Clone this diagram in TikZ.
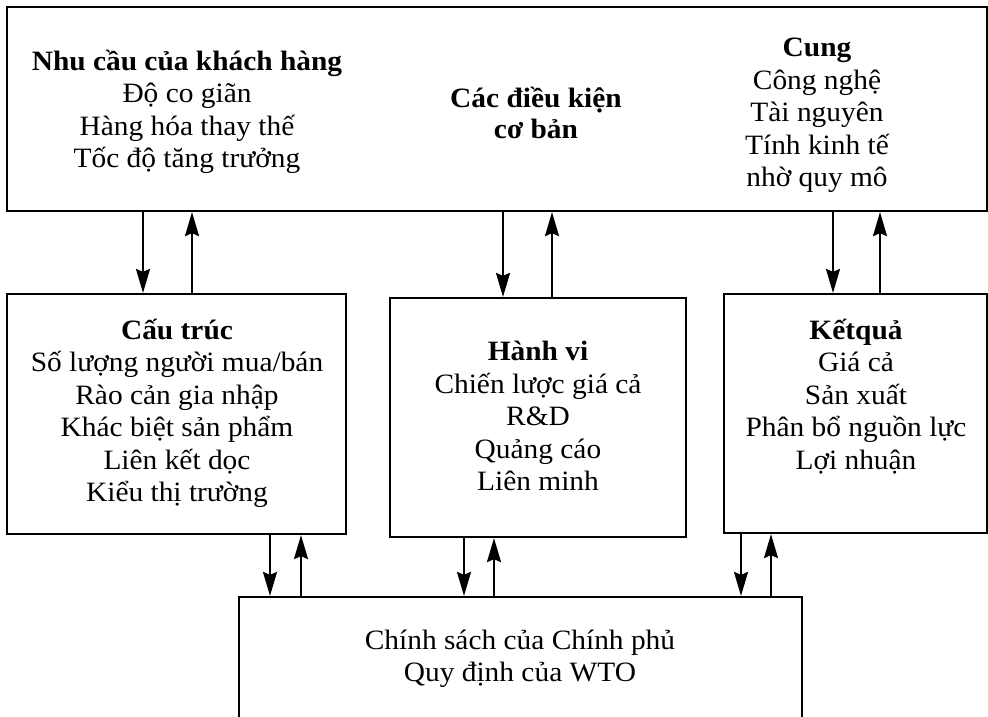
\documentclass[tikz,border=0pt]{standalone}
\usepackage{fontspec}
\setmainfont[FakeStretch=1.05]{Liberation Serif}
\usetikzlibrary{arrows.meta}
\begin{document}
\begin{tikzpicture}[x=1pt,y=-1pt,
  box/.style={draw, line width=2.2pt, inner sep=0pt},
  txt/.style={align=center, font=\fontsize{28}{32.5}\selectfont, inner sep=0pt},
  arr/.style={line width=2.2pt, -{Stealth[length=24pt,width=14pt,inset=3pt]}}]
\useasboundingbox (0,0) rectangle (988,716);
\clip (0,0) rectangle (988,716);
\fill[white] (0,0) rectangle (988,716);
% boxes
\node[box, minimum width=980pt, minimum height=204pt] (top) at (497,109) {};
\node[box, minimum width=339pt, minimum height=240pt] (left) at (176.5,414) {};
\node[box, minimum width=296pt, minimum height=239pt] (mid) at (538,417.5) {};
\node[box, minimum width=263pt, minimum height=239pt] (right) at (855.5,413.5) {};
\node[box, minimum width=563pt, minimum height=163pt] (bot) at (520.5,678.5) {};
% texts
\node[txt] (tdemand) at (187,112) {\textbf{Nhu cầu của khách hàng}\\Độ co giãn\\Hàng hóa thay thế\\Tốc độ tăng trưởng};
\node[txt, font=\fontsize{28}{31}\selectfont] (tbasic) at (536,113) {\textbf{Các điều kiện}\\\textbf{cơ bản}};
\node[txt] (tsupply) at (817,115.5) {\textbf{Cung}\\Công nghệ\\Tài nguyên\\Tính kinh tế\\nhờ quy mô};
\node[txt] (tstruct) at (177,413.5) {\textbf{Cấu trúc}\\Số lượng người mua/bán\\Rào cản gia nhập\\Khác biệt sản phẩm\\Liên kết dọc\\Kiểu thị trường};
\node[txt] (tconduct) at (538,416) {\textbf{Hành vi}\\Chiến lược giá cả\\R\&D\\Quảng cáo\\Liên minh};
\node[txt] (tperf) at (856,396.5) {\textbf{Kếtquả}\\Giá cả\\Sản xuất\\Phân bổ nguồn lực\\Lợi nhuận};
\node[txt] (tgov) at (520,659) {Chính sách của Chính phủ\\Quy định của WTO};
% arrow x positions
\coordinate (a1) at (143,0);  \coordinate (a2) at (192,0);
\coordinate (b1) at (503,0);  \coordinate (b2) at (552,0);
\coordinate (c1) at (833,0);  \coordinate (c2) at (880,0);
\coordinate (d1) at (270,0);  \coordinate (d2) at (301,0);
\coordinate (e1) at (464,0);  \coordinate (e2) at (494,0);
\coordinate (f1) at (741,0);  \coordinate (f2) at (771,0);
% arrows
\draw[arr] (top.south -| a1) -- (left.north -| a1);
\draw[arr] (left.north -| a2) -- (top.south -| a2);
\draw[arr] (top.south -| b1) -- (mid.north -| b1);
\draw[arr] (mid.north -| b2) -- (top.south -| b2);
\draw[arr] (top.south -| c1) -- (right.north -| c1);
\draw[arr] (right.north -| c2) -- (top.south -| c2);
\draw[arr] (left.south -| d1) -- (bot.north -| d1);
\draw[arr] (bot.north -| d2) -- (left.south -| d2);
\draw[arr] (mid.south -| e1) -- (bot.north -| e1);
\draw[arr] (bot.north -| e2) -- (mid.south -| e2);
\draw[arr] (right.south -| f1) -- (bot.north -| f1);
\draw[arr] (bot.north -| f2) -- (right.south -| f2);
\end{tikzpicture}
\end{document}
